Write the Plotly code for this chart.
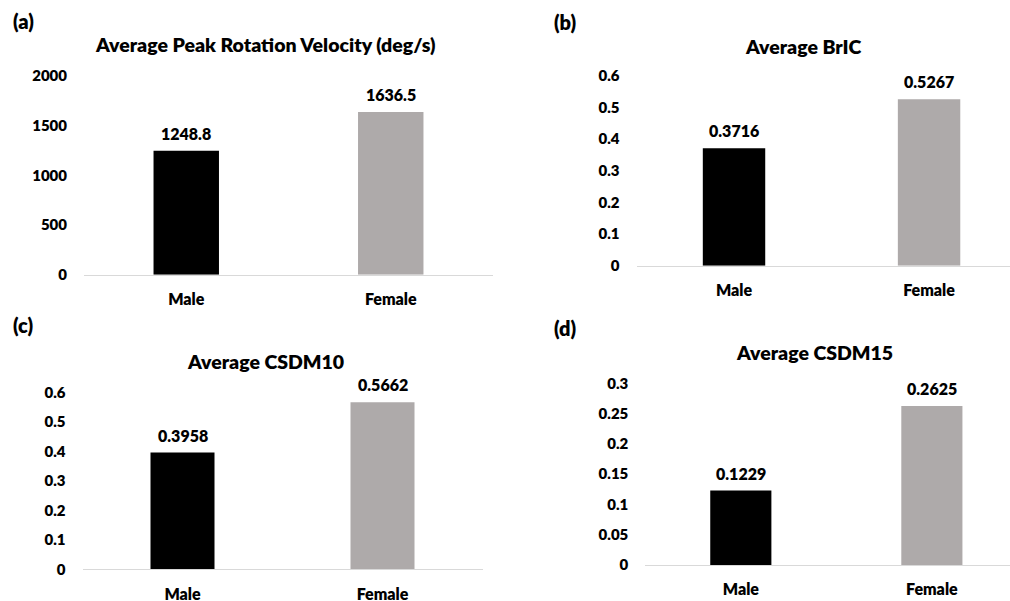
import plotly.graph_objects as go

categories = ["Male", "Female"]
velocity = [1248.8, 1636.5]
bric = [0.3716, 0.5267]
csdm10 = [0.3958, 0.5662]
csdm15 = [0.1229, 0.2625]

velocity_labels = ["1248.8", "1636.5"]
bric_labels = ["0.3716", "0.5267"]
csdm10_labels = ["0.3958", "0.5662"]
csdm15_labels = ["0.1229", "0.2625"]

ticks_a = [0, 500, 1000, 1500, 2000]
ticks_b = [0, 0.1, 0.2, 0.3, 0.4, 0.5, 0.6]
ticks_c = [0, 0.1, 0.2, 0.3, 0.4, 0.5, 0.6]
ticks_d = [0, 0.05, 0.1, 0.15, 0.2, 0.25, 0.3]

titles = ["Average Peak Rotation Velocity (deg/s)", "Average BrIC", "Average CSDM10", "Average CSDM15"]
panel_letters = ["(a)", "(b)", "(c)", "(d)"]

colors = ["#000000", "#AEAAAA"]
FONT = "Lato"
WEIGHT = 800
TXT = "#000000"

W, H = 1010, 601

def fx(px):
    return px / W

def fy(py):
    return 1 - py / H

panels = [
    dict(values=velocity, labels=velocity_labels, ticks=ticks_a, yr=[0, 2000],
         xd=[fx(84), fx(493)], yd=[fy(274.7), fy(76)], xr=[-0.5, 1.5],
         title_xy=(265, 44), letter_xy=(11, 21)),
    dict(values=bric, labels=bric_labels, ticks=ticks_b, yr=[0, 0.6],
         xd=[fx(636.5), 1.0], yd=[fy(265.7), fy(76)], xr=[-0.5, 1.415],
         title_xy=(803, 46), letter_xy=(552, 22)),
    dict(values=csdm10, labels=csdm10_labels, ticks=ticks_c, yr=[0, 0.6],
         xd=[fx(82.5), fx(482.5)], yd=[fy(569.3), fy(392.3)], xr=[-0.5, 1.5],
         title_xy=(265, 361), letter_xy=(11, 325)),
    dict(values=csdm15, labels=csdm15_labels, ticks=ticks_d, yr=[0, 0.3],
         xd=[fx(645.3), 1.0], yd=[fy(565), fy(383.3)], xr=[-0.5, 1.409],
         title_xy=(814, 352), letter_xy=(552, 328)),
]

fig = go.Figure()
annotations = []
layout = {}

for i, p in enumerate(panels):
    n = "" if i == 0 else str(i + 1)
    xa, ya = "x" + n, "y" + n
    fig.add_trace(go.Bar(
        x=categories, y=p["values"], xaxis=xa, yaxis=ya,
        marker=dict(color=colors, line=dict(width=0)),
        width=[0.32, 0.32], showlegend=False, hoverinfo="skip",
    ))
    for c, v, lab in zip(categories, p["values"], p["labels"]):
        annotations.append(dict(
            x=c, y=v, xref=xa, yref=ya, text=lab, showarrow=False,
            yanchor="bottom", yshift=6,
            font=dict(family=FONT, size=16, color=TXT, weight=WEIGHT),
        ))
    layout["xaxis" + n] = dict(
        domain=p["xd"], anchor=ya, type="category", range=p["xr"],
        showline=True, linecolor="#d9d9d9", linewidth=1,
        showgrid=False, zeroline=False, ticks="", automargin=False,
        ticklabelstandoff=10,
        tickfont=dict(family=FONT, size=16, color=TXT, weight=WEIGHT),
    )
    layout["yaxis" + n] = dict(
        domain=p["yd"], anchor=xa, range=p["yr"], automargin=False,
        tickvals=p["ticks"], ticktext=[("%g" % t) for t in p["ticks"]],
        showline=False, showgrid=False, zeroline=False, ticks="",
        ticklabelstandoff=16,
        tickfont=dict(family=FONT, size=15, color=TXT, weight=WEIGHT),
    )
    tx, ty = p["title_xy"]
    annotations.append(dict(
        x=fx(tx), y=fy(ty), xref="paper", yref="paper", text=titles[i],
        showarrow=False, xanchor="center", yanchor="middle",
        font=dict(family=FONT, size=19.5, color=TXT, weight=WEIGHT),
    ))
    lx, ly = p["letter_xy"]
    annotations.append(dict(
        x=fx(lx), y=fy(ly), xref="paper", yref="paper", text=panel_letters[i],
        showarrow=False, xanchor="left", yanchor="middle",
        font=dict(family=FONT, size=20, color=TXT, weight=WEIGHT),
    ))

fig.update_layout(
    width=W, height=H, margin=dict(l=0, r=0, t=0, b=0, autoexpand=False),
    paper_bgcolor="white", plot_bgcolor="white",
    annotations=annotations, **layout,
)

fig.write_html("out.html")
